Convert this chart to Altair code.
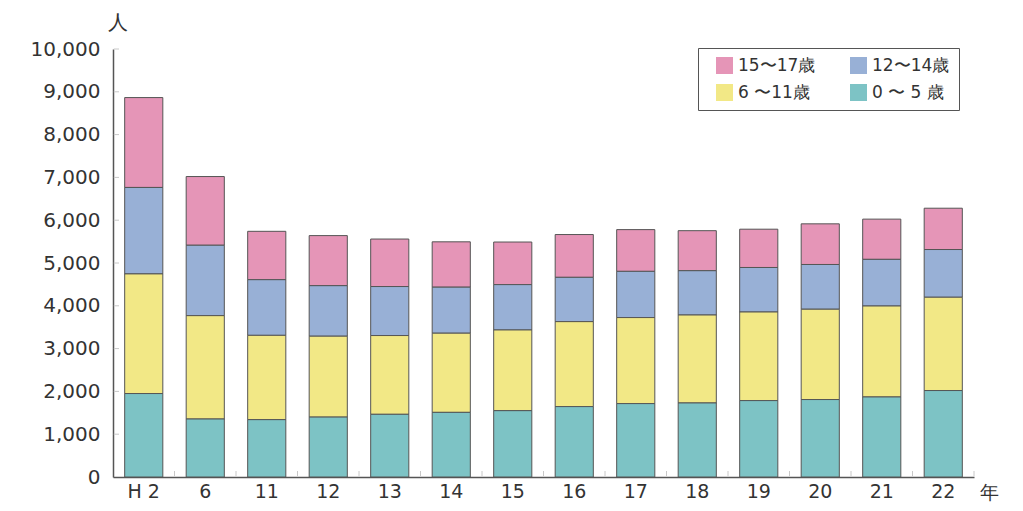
import altair as alt
import pandas as pd

years = ["H 2", "6", "11", "12", "13", "14", "15", "16", "17", "18", "19", "20", "21", "22"]
age_0_5 = [1950, 1355, 1340, 1400, 1465, 1510, 1550, 1645, 1715, 1730, 1785, 1810, 1870, 2020]
age_6_11 = [2795, 2415, 1970, 1890, 1840, 1850, 1885, 1985, 2010, 2055, 2070, 2110, 2125, 2180]
age_12_14 = [2020, 1645, 1300, 1180, 1145, 1075, 1060, 1035, 1080, 1035, 1040, 1045, 1090, 1115]
age_15_17 = [2100, 1605, 1130, 1170, 1110, 1060, 995, 1000, 975, 935, 895, 950, 940, 965]
y_tick_values = [0, 1000, 2000, 3000, 4000, 5000, 6000, 7000, 8000, 9000, 10000]

labels = ["15〜17歳", "12〜14歳", "\u00a06 〜11歳", "\u00a00 〜 5 歳"]
colors = ["#E595B7", "#98B0D6", "#F2E886", "#7DC3C5"]
series = [age_15_17, age_12_14, age_6_11, age_0_5]
stack_order = [3, 2, 1, 0]

rows = []
for lab, vals, o in zip(labels, series, stack_order):
    for yr, v in zip(years, vals):
        rows.append({"year": yr, "group": lab, "value": v, "ord": o})
df = pd.DataFrame(rows)
df_years = pd.DataFrame({"year": years})
df_yticks = pd.DataFrame({"value": y_tick_values[1:]})

W, H = 861, 428
FONT = "DejaVu Sans"
TXT = "#333333"
xscale = alt.Scale(paddingInner=0.38, paddingOuter=0.19)
yscale = alt.Scale(domain=[0, 10000])

yaxis = alt.Axis(title="人", values=y_tick_values, format=",d",
                 ticks=False, grid=False, domainColor="#555555", domainWidth=1.5,
                 labelFontSize=20, labelColor=TXT, labelPadding=13,
                 labelFont=FONT,
                 titleAngle=0, titleX=4, titleY=-27, titleAlign="center",
                 titleBaseline="middle", titleFontSize=20, titleFontWeight="normal",
                 titleColor=TXT, titleFont=FONT)

bars = alt.Chart(df).mark_bar(stroke="#555555", strokeWidth=1).encode(
    x=alt.X("year:N", sort=years, scale=xscale,
            axis=alt.Axis(title="年", labelAngle=0, ticks=False, domainColor="#555555",
                          domainWidth=1.5, labelFontSize=19, labelColor=TXT,
                          labelPadding=5, labelFont=FONT,
                          titleAngle=0, titleX=876, titleY=15, titleAlign="center",
                          titleBaseline="middle", titleFontSize=19, titleFontWeight="normal",
                          titleColor=TXT, titleFont=FONT)),
    y=alt.Y("value:Q", stack="zero", scale=yscale, axis=yaxis),
    color=alt.Color("group:N", scale=alt.Scale(domain=labels, range=colors),
                    legend=alt.Legend(title=None, orient="none", legendX=585, legendY=-1,
                                      direction="horizontal",
                                      columns=2, columnPadding=25, rowPadding=9,
                                      symbolType="square", symbolSize=289,
                                      symbolStrokeWidth=0, symbolOpacity=1,
                                      symbolOffset=9,
                                      labelFontSize=17, labelFont=FONT, labelColor=TXT,
                                      labelOffset=5, padding=9,
                                      strokeColor="#555555", fillColor="white")),
    order=alt.Order("ord:Q"),
)

y_ticks = alt.Chart(df_yticks).mark_rule(color="#c8c8c8", strokeWidth=1).encode(
    y=alt.Y("value:Q", scale=yscale, axis=yaxis),
    x=alt.value(0.8),
    x2=alt.value(6),
)

x_ticks = alt.Chart(df_years).mark_rule(color="#c8c8c8", strokeWidth=1).encode(
    x=alt.X("year:N", sort=years, bandPosition=1,
            scale=alt.Scale(paddingInner=0, paddingOuter=0), axis=None),
    y=alt.value(H - 0.8),
    y2=alt.value(H - 6),
)

chart = alt.layer(bars, y_ticks, x_ticks).resolve_scale(x="independent").properties(
    width=W, height=H,
    background="white",
    autosize=alt.AutoSizeParams(type="none"),
    padding={"left": 105, "top": 41, "right": 41, "bottom": 26},
).configure_view(stroke=None)

chart.save("out.html", embed_options={"renderer": "svg", "actions": False})
